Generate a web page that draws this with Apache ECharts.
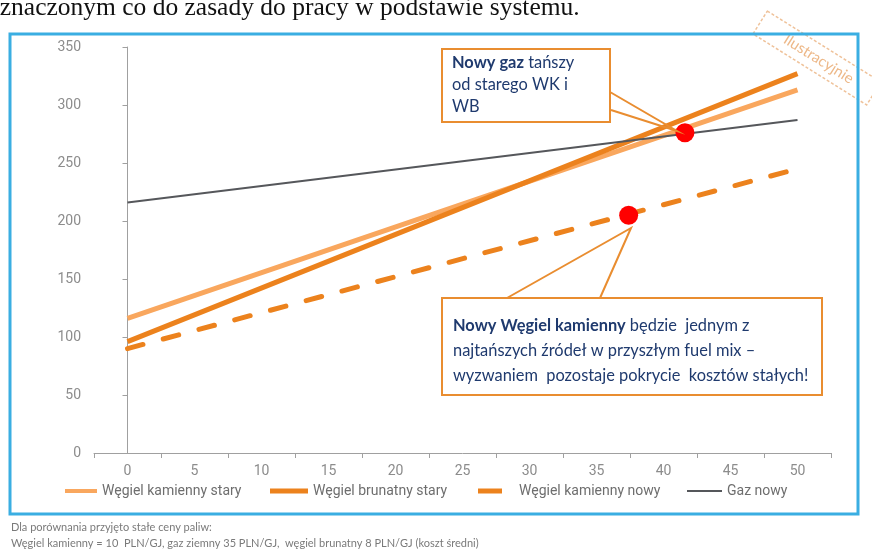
<!DOCTYPE html>
<html>
<head>
<meta charset="utf-8">
<script src="https://cdn.jsdelivr.net/npm/echarts@6/dist/echarts.min.js"></script>
<style>
  html, body { margin: 0; padding: 0; background: #ffffff; }
  #chart { width: 872px; height: 550px; }
</style>
</head>
<body>
<div id="chart"></div>
<script>
// Unit cost lines by load factor (0–50), drawn as straight segments between the end values
const categories = ['0', '5', '10', '15', '20', '25', '30', '35', '40', '45', '50'];
const seriesNames = ['Węgiel kamienny stary', 'Węgiel brunatny stary', 'Węgiel kamienny nowy', 'Gaz nowy'];
const kamiennyStary = [116, null, null, null, null, null, null, null, null, null, 313];
const brunatnyStary = [96, null, null, null, null, null, null, null, null, null, 327];
const kamiennyNowy = [90, null, null, null, null, null, null, null, null, null, 245];
const gazNowy = [216, null, null, null, null, null, null, null, null, null, 287];
// Highlighted points: [x on the 0–50 scale, value]
const highlightPoints = [[41.6, 276], [37.4, 205]];

const headerText = 'oznaczonym co do zasady do pracy w podstawie systemu.';
const noteLines = [
  'Dla porównania przyjęto stałe ceny paliw:',
  'Węgiel kamienny = 10  PLN/GJ, gaz ziemny 35 PLN/GJ,  węgiel brunatny 8 PLN/GJ (koszt średni)'
];
const calloutGas = '{b|Nowy gaz} tańszy\nod starego WK i\nWB';
const calloutCoal = '{b|Nowy Węgiel kamienny} będzie  jednym z\nnajtańszych źródeł w przyszłym fuel mix –\nwyzwaniem  pozostaje pokrycie  kosztów stałych!';
const stampText = 'Ilustracyjnie';

const C_LIGHT = '#F9A75E';
const C_DARK = '#EC821D';
const C_GRAY = '#55575B';
const C_NAVY = '#1F3A6E';
const C_BOX = '#E98D30';
const AXIS_FONT = 'Roboto';
const BOX_FONT = 'Lato';
const BOX_SIZE = 16.4;

const chart = echarts.init(document.getElementById('chart'), null, { renderer: 'canvas' });

function lineSeries(name, data, color, width, dash) {
  return {
    name: name,
    type: 'line',
    data: data,
    connectNulls: true,
    symbol: 'none',
    silent: true,
    z: 3,
    itemStyle: { color: color },
    lineStyle: { color: color, width: width, type: dash || 'solid', cap: dash ? 'round' : 'butt' }
  };
}

function legendAt(name, left, iconWidth, iconHeight, textPad) {
  return {
    data: [name],
    left: left,
    top: 484,
    padding: 0,
    icon: 'rect',
    itemWidth: iconWidth,
    itemHeight: iconHeight,
    selectedMode: false,
    textStyle: { fontFamily: AXIS_FONT, fontSize: 14, color: '#6E6E6E', padding: [0, 0, 0, textPad || 0] }
  };
}

function calloutText(text, left, top, lineHeight) {
  return {
    type: 'text', z: 22, left: left, top: top,
    style: {
      text: text,
      font: BOX_SIZE + 'px ' + BOX_FONT,
      fill: C_NAVY,
      lineHeight: lineHeight,
      rich: { b: { fontWeight: 'bold', fontFamily: BOX_FONT, fontSize: BOX_SIZE, fill: C_NAVY, lineHeight: lineHeight } }
    }
  };
}

const option = {
  animation: false,
  backgroundColor: '#ffffff',
  grid: { left: 94, right: 41, top: 47, bottom: 97 },
  xAxis: [
    {
      type: 'category',
      data: categories,
      boundaryGap: true,
      axisLine: { lineStyle: { color: '#A0A0A0', width: 1 } },
      axisTick: { show: true, interval: 0, length: 5, lineStyle: { color: '#A0A0A0' } },
      axisLabel: { interval: 0, margin: 11, color: '#8C8C8C', fontFamily: AXIS_FONT, fontSize: 14 },
      splitLine: { show: false }
    },
    {
      type: 'value',
      min: -2.5,
      max: 52.5,
      show: false
    }
  ],
  yAxis: {
    type: 'value',
    min: 0,
    max: 350,
    interval: 50,
    axisLine: { show: true, lineStyle: { color: '#A0A0A0', width: 1 } },
    axisTick: { show: true, length: 5, lineStyle: { color: '#A0A0A0' } },
    axisLabel: { margin: 13, color: '#8C8C8C', fontFamily: AXIS_FONT, fontSize: 14 },
    splitLine: { show: false }
  },
  legend: [
    legendAt(seriesNames[0], 65, 32, 4),
    legendAt(seriesNames[1], 270, 38, 5),
    legendAt(seriesNames[2], 478, 24, 5, 12),
    legendAt(seriesNames[3], 687, 35, 2)
  ],
  series: [
    lineSeries(seriesNames[0], kamiennyStary, C_LIGHT, 5),
    lineSeries(seriesNames[1], brunatnyStary, C_DARK, 5),
    lineSeries(seriesNames[2], kamiennyNowy, C_DARK, 5, [16, 21]),
    lineSeries(seriesNames[3], gazNowy, C_GRAY, 2),
    {
      name: 'punkty',
      type: 'scatter',
      xAxisIndex: 1,
      data: highlightPoints,
      symbol: 'circle',
      symbolSize: 19,
      silent: true,
      z: 10,
      itemStyle: { color: '#FF0000', opacity: 1 }
    }
  ],
  graphic: [
    // cut-off line of body text above the figure
    {
      type: 'text', left: -13, top: -5, z: 1,
      style: { text: headerText, font: '25.5px "Liberation Serif"', fill: '#111111' }
    },
    // outer frame
    {
      type: 'rect', z: 1, silent: true,
      shape: { x: 10, y: 34, width: 848, height: 480 },
      style: { fill: 'none', stroke: '#3AAEE2', lineWidth: 3 }
    },
    // callout: gas
    {
      type: 'polyline', z: 20, silent: true,
      shape: { points: [[610, 92], [677, 131], [611, 110]] },
      style: { fill: 'none', stroke: C_BOX, lineWidth: 2 }
    },
    {
      type: 'rect', z: 21, silent: true,
      shape: { x: 442, y: 49, width: 168, height: 73 },
      style: { fill: '#ffffff', stroke: C_BOX, lineWidth: 2 }
    },
    calloutText(calloutGas, 452, 52, 22),
    // callout: new hard coal
    {
      type: 'polyline', z: 20, silent: true,
      shape: { points: [[507, 298], [631, 228], [600, 298]] },
      style: { fill: 'none', stroke: C_BOX, lineWidth: 2 }
    },
    {
      type: 'rect', z: 21, silent: true,
      shape: { x: 442, y: 298, width: 380, height: 97 },
      style: { fill: '#ffffff', stroke: C_BOX, lineWidth: 2 }
    },
    calloutText(calloutCoal, 453, 313, 25),
    // rotated stamp
    {
      type: 'group', x: 817, y: 58, rotation: -32 * Math.PI / 180, z: 30,
      children: [
        {
          type: 'rect',
          shape: { x: -67, y: -13.5, width: 134, height: 27 },
          style: { fill: '#ffffff', stroke: '#EFC29A', lineWidth: 1.5, lineDash: [3, 2] }
        },
        {
          type: 'text', x: 2, y: 0,
          style: { text: stampText, font: '15px ' + BOX_FONT, fill: '#EDB888', align: 'center', verticalAlign: 'middle' }
        }
      ]
    },
    // footnote
    {
      type: 'text', left: 11, top: 520, z: 1,
      style: { text: noteLines.join('\n'), font: '11px ' + BOX_FONT, fill: '#7A7A7A', lineHeight: 15.5 }
    }
  ]
};

chart.setOption(option);
</script>
</body>
</html>
